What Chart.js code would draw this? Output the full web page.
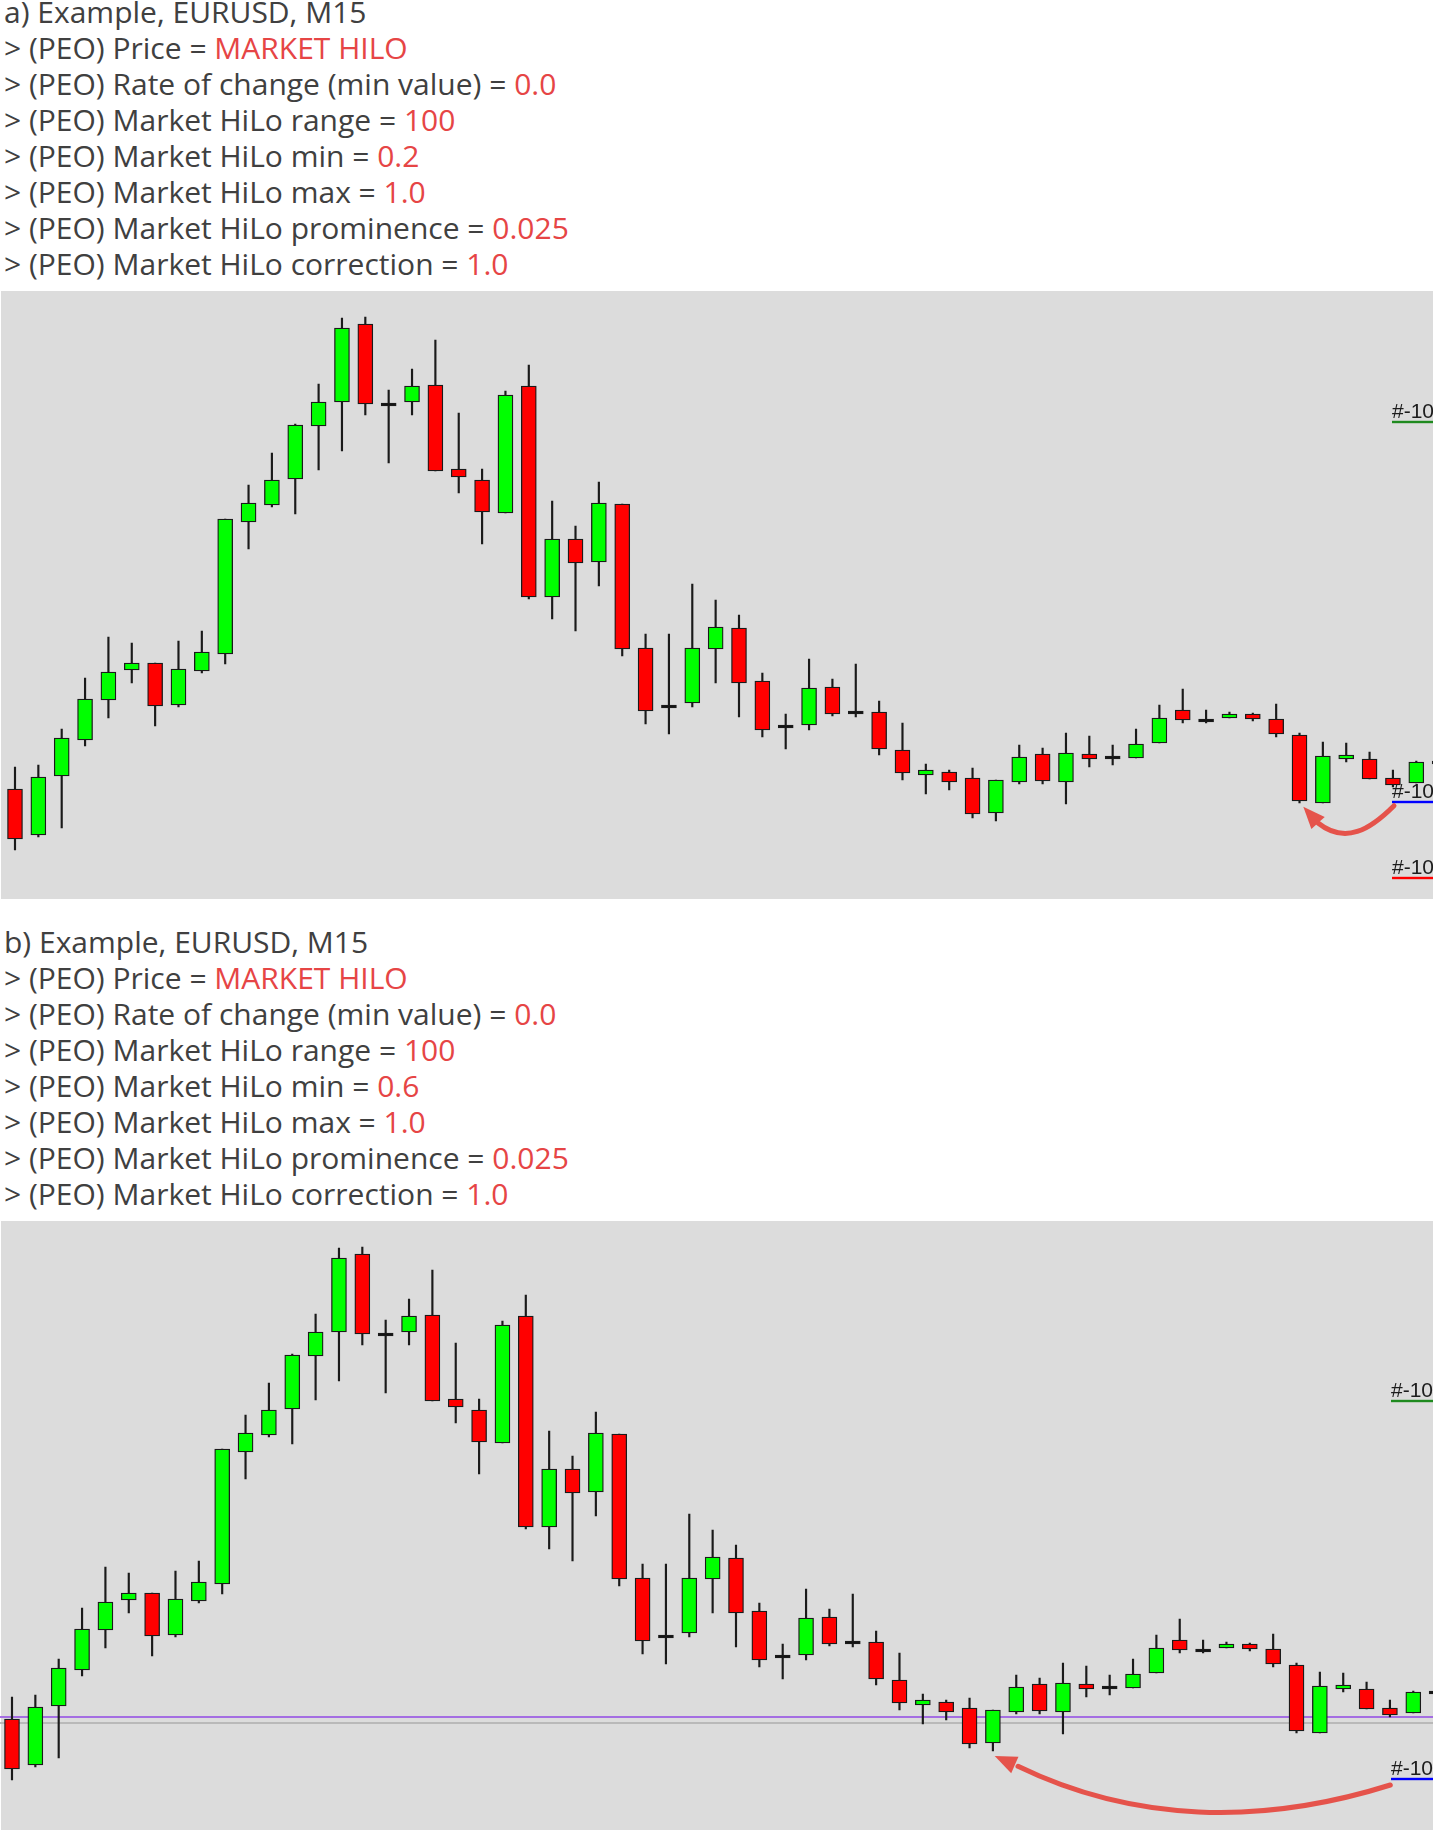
<!DOCTYPE html>
<html><head><meta charset="utf-8">
<script src="https://cdn.jsdelivr.net/npm/chart.js@4.4.1/dist/chart.umd.min.js"></script>
<style>
html,body{margin:0;padding:0;width:1433px;height:1830px;overflow:hidden;background:#fff;}
.txt{position:absolute;left:4px;font-family:"Open Sans";font-size:30px;line-height:36px;color:#404040;white-space:nowrap;}
.r{color:#e64545;}
.panel{position:absolute;left:1px;width:1432px;background:#dcdcdc;}
canvas{position:absolute;left:0;}
</style></head><body>
<div class="txt" id="txtA" style="top:-6px"></div>
<div class="panel" style="top:291px;height:608px"></div>
<canvas id="chartA" width="1452" height="609" style="top:290px;width:1452px;height:609px"></canvas>
<div class="txt" id="txtB" style="top:924px"></div>
<div class="panel" style="top:1221px;height:609px"></div>
<canvas id="chartB" width="1452" height="609" style="top:1220px;width:1452px;height:609px"></canvas>
<script>
// ---- data ----
const categories = ['1','2','3','4','5','6','7','8','9','10','11','12','13','14','15','16','17','18','19','20','21','22','23','24','25','26','27','28','29','30','31','32','33','34','35','36','37','38','39','40','41','42','43','44','45','46','47','48','49','50','51','52','53','54','55','56','57','58','59','60','61','62'];
const openPrices  = [1.08201,1.08155,1.08214,1.08250,1.08290,1.08320,1.08327,1.08285,1.08319,1.08336,1.08468,1.08485,1.08511,1.08564,1.08588,1.08666,1.08587,1.08588,1.08605,1.08521,1.08510,1.08477,1.08604,1.08393,1.08451,1.08428,1.08486,1.08342,1.08285,1.08287,1.08341,1.08362,1.08309,1.08265,1.08265,1.08303,1.08279,1.08278,1.08240,1.08215,1.08218,1.08212,1.08177,1.08208,1.08236,1.08208,1.08236,1.08234,1.08232,1.08247,1.08280,1.08271,1.08272,1.08276,1.08271,1.08255,1.08187,1.08231,1.08231,1.08212,1.08207,1.08229];
const highPrices  = [1.08223,1.08225,1.08261,1.08312,1.08353,1.08347,1.08327,1.08349,1.08359,1.08471,1.08505,1.08537,1.08566,1.08606,1.08672,1.08673,1.08600,1.08621,1.08650,1.08577,1.08521,1.08599,1.08625,1.08489,1.08464,1.08508,1.08486,1.08356,1.08356,1.08406,1.08390,1.08375,1.08317,1.08276,1.08331,1.08311,1.08326,1.08289,1.08267,1.08226,1.08220,1.08222,1.08210,1.08245,1.08242,1.08257,1.08254,1.08245,1.08261,1.08285,1.08301,1.08280,1.08278,1.08277,1.08286,1.08257,1.08248,1.08247,1.08238,1.08220,1.08229,1.08234];
const lowPrices   = [1.08140,1.08153,1.08162,1.08244,1.08272,1.08307,1.08264,1.08283,1.08317,1.08326,1.08441,1.08483,1.08476,1.08520,1.08539,1.08575,1.08527,1.08575,1.08519,1.08497,1.08446,1.08477,1.08391,1.08371,1.08359,1.08404,1.08334,1.08266,1.08256,1.08283,1.08307,1.08273,1.08253,1.08241,1.08260,1.08274,1.08273,1.08235,1.08210,1.08196,1.08200,1.08172,1.08169,1.08206,1.08206,1.08186,1.08223,1.08225,1.08232,1.08247,1.08267,1.08267,1.08272,1.08269,1.08253,1.08187,1.08187,1.08228,1.08211,1.08203,1.08207,1.08215];
const closePrices = [1.08151,1.08213,1.08252,1.08291,1.08318,1.08327,1.08284,1.08321,1.08338,1.08471,1.08487,1.08510,1.08565,1.08588,1.08662,1.08586,1.08584,1.08604,1.08519,1.08513,1.08478,1.08595,1.08393,1.08451,1.08427,1.08487,1.08341,1.08279,1.08282,1.08342,1.08363,1.08307,1.08260,1.08262,1.08302,1.08276,1.08276,1.08241,1.08217,1.08220,1.08208,1.08176,1.08210,1.08233,1.08209,1.08237,1.08231,1.08231,1.08246,1.08272,1.08270,1.08268,1.08276,1.08271,1.08256,1.08189,1.08234,1.08235,1.08211,1.08205,1.08228,1.08226];
const priceMin = 1.08091, priceMax = 1.08700;

const levelPricesA = [1.08568, 1.08188, 1.08112];
const levelColorsA = ['#1f8a1f', '#0000ff', '#ff0000'];
const levelPricesB = [1.08519, 1.08141];
const levelColorsB = ['#1f8a1f', '#0000ff'];
const hLinePricesB = [1.08203, 1.08197];
const hLineColorsB = ['#a46ee2', '#b9b9b9'];
const levelText = '#-100';

const textLabels = ['> (PEO) Price = ', '> (PEO) Rate of change (min value) = ', '> (PEO) Market HiLo range = ', '> (PEO) Market HiLo min = ', '> (PEO) Market HiLo max = ', '> (PEO) Market HiLo prominence = ', '> (PEO) Market HiLo correction = '];
const textValuesA = ['MARKET HILO', '0.0', '100', '0.2', '1.0', '0.025', '1.0'];
const textValuesB = ['MARKET HILO', '0.0', '100', '0.6', '1.0', '0.025', '1.0'];

function fillText(id, title, vals) {
  const el = document.getElementById(id);
  const t = document.createElement('div'); t.textContent = title; el.appendChild(t);
  textLabels.forEach((lab, i) => {
    const d = document.createElement('div');
    d.appendChild(document.createTextNode(lab));
    const s = document.createElement('span'); s.className = 'r'; s.textContent = vals[i];
    d.appendChild(s); el.appendChild(d);
  });
}
fillText('txtA', 'a) Example, EURUSD, M15', textValuesA);
fillText('txtB', 'b) Example, EURUSD, M15', textValuesB);

function bodyColor(i) {
  const o = openPrices[i], c = closePrices[i];
  if (Math.abs(c - o) < 0.000035) return '#141414';
  return c >= o ? '#00ff00' : '#ff0000';
}

const arrowColor = '#e5534b';
function drawArrow(ctx, S, C1, C2, E, T) {
  ctx.save();
  ctx.strokeStyle = arrowColor; ctx.fillStyle = arrowColor;
  ctx.lineWidth = 5; ctx.lineCap = 'round';
  ctx.beginPath(); ctx.moveTo(S.x, S.y);
  ctx.bezierCurveTo(C1.x, C1.y, C2.x, C2.y, E.x, E.y); ctx.stroke();
  const dx = T.x - E.x, dy = T.y - E.y, len = Math.hypot(dx, dy);
  const ux = dx / len, uy = dy / len, nx = -uy, ny = ux;
  const hl = 22, hw = 9;
  const bx = T.x - ux * hl, by = T.y - uy * hl;
  ctx.beginPath(); ctx.moveTo(T.x, T.y);
  ctx.lineTo(bx + nx * hw, by + ny * hw); ctx.lineTo(bx - nx * hw, by - ny * hw);
  ctx.closePath(); ctx.fill();
  ctx.restore();
}

function makeOverlay(cfg) {
  return {
    id: 'overlay',
    beforeDatasetsDraw(chart) {
      const ctx = chart.ctx, y = chart.scales.y;
      (cfg.hLines || []).forEach((p, i) => {
        ctx.fillStyle = cfg.hColors[i];
        ctx.fillRect(0, y.getPixelForValue(p) - 1, chart.width, 2);
      });
    },
    afterDatasetsDraw(chart) {
      const ctx = chart.ctx, x = chart.scales.x, y = chart.scales.y;
      ctx.save();
      cfg.levels.forEach((p, i) => {
        const ly = y.getPixelForValue(p);
        ctx.fillStyle = cfg.levelColors[i];
        ctx.fillRect(cfg.labelX, ly - 1.2, chart.width - cfg.labelX, 2.4);
        ctx.fillStyle = '#1c1c1c';
        ctx.font = '21px "Liberation Sans", Arial, sans-serif';
        ctx.textBaseline = 'alphabetic';
        ctx.fillText(levelText, cfg.labelX, ly - 4);
      });
      ctx.restore();
      const a = cfg.arrow;
      const sy = y.getPixelForValue(cfg.levels[a.fromLevel]);
      const S = {x: cfg.labelX + a.sOff[0], y: sy + a.sOff[1]};
      const T = {x: x.getPixelForValue(a.toBar) + a.tOff[0], y: y.getPixelForValue(lowPrices[a.toBar]) + a.tOff[1]};
      const C1 = {x: S.x + a.c1[0], y: S.y + a.c1[1]};
      const C2 = {x: T.x + a.c2[0], y: T.y + a.c2[1]};
      const E = {x: T.x + a.e[0], y: T.y + a.e[1]};
      drawArrow(ctx, S, C1, C2, E, T);
    }
  };
}

function makeChart(id, padL, padR, overlayCfg) {
  return new Chart(document.getElementById(id), {
    type: 'bar',
    data: {
      labels: categories,
      datasets: [
        { label: 'body', data: categories.map((_, i) => [openPrices[i], closePrices[i]]),
          backgroundColor: categories.map((_, i) => bodyColor(i)),
          borderColor: '#1a1a1a', borderWidth: 1.3, borderSkipped: false,
          barThickness: 15, grouped: false, order: 0 },
        { label: 'wick', data: categories.map((_, i) => [lowPrices[i], highPrices[i]]),
          backgroundColor: '#1a1a1a', borderWidth: 0, barThickness: 1.5, grouped: false, order: 1 }
      ]
    },
    options: {
      responsive: false, animation: false, devicePixelRatio: 1,
      layout: { padding: { left: padL, right: padR, top: 0, bottom: 0 } },
      plugins: { legend: { display: false }, tooltip: { enabled: false } },
      scales: {
        x: { display: false, offset: true, grid: { display: false } },
        y: { display: false, min: priceMin, max: priceMax }
      }
    },
    plugins: [makeOverlay(overlayCfg)]
  });
}

makeChart('chartA', 3.32, 0.68, {
  levels: levelPricesA, levelColors: levelColorsA, labelX: 1392,
  arrow: { fromLevel: 1, sOff: [2, 3.7], toBar: 55, tOff: [3.8, 3.7], c1: [-24, 24], c2: [42, 38], e: [14.7, 16.3] }
});
makeChart('chartB', 0.32, 3.68, {
  levels: levelPricesB, levelColors: levelColorsB, labelX: 1391,
  hLines: hLinePricesB, hColors: hLineColorsB,
  arrow: { fromLevel: 1, sOff: [-0.7, 6], toBar: 42, tOff: [1.8, 5], c1: [-130, 41], c2: [138, 66], e: [23.3, 10.3] }
});
</script>
</body></html>
